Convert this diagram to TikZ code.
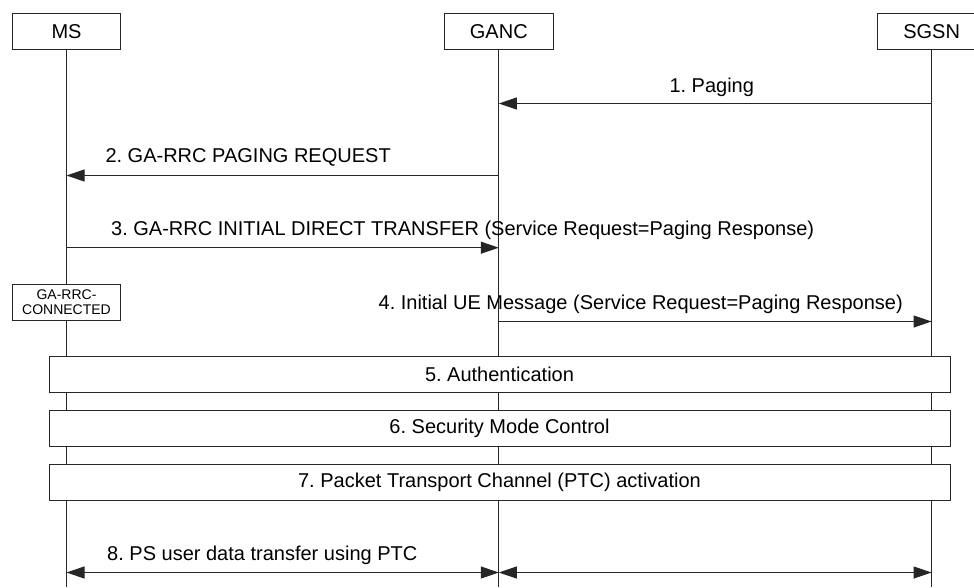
\documentclass[tikz,border=0pt]{standalone}
\usepackage{fontspec}
\setmainfont{Liberation Sans}
\usetikzlibrary{arrows.meta}
\frenchspacing
\begin{document}
\begin{tikzpicture}[x=1pt,y=-1pt,
  line width=1pt,
  every node/.style={font=\fontsize{20}{22}\selectfont},
  entity/.style={draw=black!85, fill=white, minimum width=108.4pt, minimum height=36pt, inner sep=0pt},
  state/.style={draw=black!85, fill=white, minimum width=108.4pt, minimum height=36pt, inner sep=0pt, align=center, font=\fontsize{14}{15}\selectfont},
  procbox/.style={draw=black!85, fill=white, minimum width=901pt, minimum height=36pt, inner sep=0pt},
  lbl/.style={inner sep=0pt},
  life/.style={draw=black!85},
  msg/.style={draw=black!85, -{Triangle[length=18pt,width=12pt]}},
  dmsg/.style={draw=black!85, {Triangle[length=18pt,width=12pt]}-{Triangle[length=18pt,width=12pt]}}
]
\useasboundingbox (0,0) rectangle (974,587);
\begin{scope}
\clip (0,0) rectangle (974,587);
% entities
\node[entity] (ms) at (66.5,31.3) {MS};
\node[entity] (ganc) at (498.8,31.3) {GANC};
\node[entity] (sgsn) at (931.6,31.3) {SGSN};
% lifeline ends
\coordinate (msend) at (66.5,587);
\coordinate (gancend) at (498.8,587);
\coordinate (sgsnend) at (931.6,587);
\draw[life] (ms.south) -- (msend);
\draw[life] (ganc.south) -- (gancend);
\draw[life] (sgsn.south) -- (sgsnend);
% message points
\coordinate (s1) at (931.6,103.5);
\coordinate (g1) at (498.8,103.5);
\coordinate (g2) at (498.8,175.5);
\coordinate (m2) at (66.5,175.5);
\coordinate (m3) at (66.5,247.7);
\coordinate (g3) at (498.8,247.7);
\coordinate (g4) at (498.8,321.5);
\coordinate (s4) at (931.6,321.5);
\coordinate (m8) at (66.5,572.5);
\coordinate (g8) at (498.8,572.5);
\coordinate (s8) at (931.6,572.5);
% messages
\draw[msg] (s1) -- (g1);
\node[lbl, anchor=base west] (l1) at (669,92.3) {1. Paging};
\draw[msg] (g2) -- (m2);
\node[lbl, anchor=base west] (l2) at (105,162.7) {2. GA-RRC PAGING REQUEST};
\draw[msg] (m3) -- (g3);
\node[lbl, anchor=base west] (l3) at (110.7,235) {3. GA-RRC INITIAL DIRECT TRANSFER (Service Request=Paging Response)};
\node[state] (conn) at (66.5,302) {GA-RRC-\\CONNECTED};
\draw[msg] (g4) -- (s4);
\node[lbl, anchor=base east] (l4) at (903.3,309.3) {4. Initial UE Message (Service Request=Paging Response)};
% procedure boxes
\node[procbox] (auth) at (499.5,374) {5. Authentication};
\node[procbox] (smc) at (499.5,428) {6. Security Mode Control};
\node[procbox] (ptc) at (499.5,482) {7. Packet Transport Channel (PTC) activation};
% data transfer
\draw[dmsg] (m8) -- (g8);
\draw[dmsg] (g8) -- (s8);
\node[lbl, anchor=base west] (l8) at (106.7,560) {8. PS user data transfer using PTC};
\end{scope}
\end{tikzpicture}
\end{document}
